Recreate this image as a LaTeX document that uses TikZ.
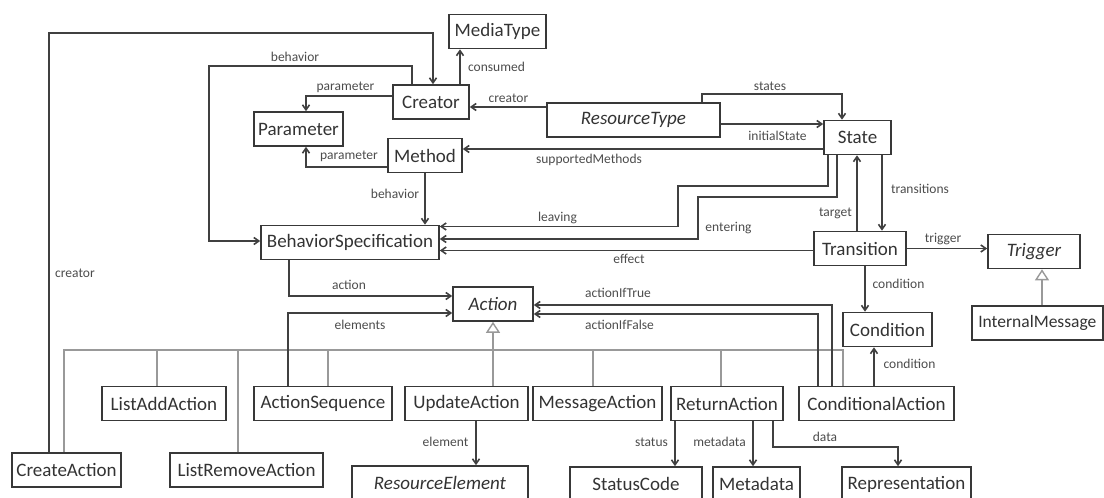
\documentclass[tikz,border=0pt]{standalone}
\usepackage{fontspec}
\setmainfont{Carlito}
\usetikzlibrary{arrows.meta}

\begin{document}
\begin{tikzpicture}[x=1pt,y=-1pt,
  cls/.style={draw=black!78,line width=1.6pt,text=black!80,font=\fontsize{19}{19}\selectfont,minimum height=34pt,inner sep=0pt},
  arr/.style={draw=black!75,line width=1.6pt,-{Straight Barb[length=5pt,width=7pt]}},
  gen/.style={draw=black!40,line width=1.4pt},
  genarr/.style={gen,-{Triangle[open,length=11pt,width=14pt]}},
  lbl/.style={text=black!70,font=\fontsize{13.5}{13.5}\selectfont,inner sep=0pt}]

\useasboundingbox (0,0) rectangle (1104,498);

% classes
\node[cls,minimum width=97pt] (mt) at (497.5,31.5) {MediaType};
\node[cls,minimum width=76pt] (cr) at (431,102) {Creator};
\node[cls,minimum width=89pt] (pm) at (298.5,129) {Parameter};
\node[cls,minimum width=74pt] (me) at (425,155.5) {Method};
\node[cls,minimum width=173pt] (rt) at (633.5,120) {\itshape ResourceType};
\node[cls,minimum width=67pt] (st) at (857.5,137.5) {State};
\node[cls,minimum width=178pt] (bs) at (350,242.5) {BehaviorSpecification};
\node[cls,minimum width=92pt] (tr) at (860,248.5) {Transition};
\node[cls,minimum width=92pt] (tg) at (1034,251.5) {\itshape Trigger};
\node[cls,minimum width=131pt,anchor=west,font=\fontsize{17.5}{17.5}\selectfont] (im) at (971,323) {InternalMessage};
\node[cls,minimum width=80pt] (ac) at (493,304) {\itshape Action};
\node[cls,minimum width=89pt] (cd) at (887.5,329.5) {Condition};
\node[cls,minimum width=124pt] (la) at (164,403.5) {ListAddAction};
\node[cls,minimum width=138pt] (as) at (323,403.5) {ActionSequence};
\node[cls,minimum width=123pt] (ua) at (466.5,403.5) {UpdateAction};
\node[cls,minimum width=129pt] (ma) at (597.5,403.5) {MessageAction};
\node[cls,minimum width=112pt] (ra) at (727,403.5) {ReturnAction};
\node[cls,minimum width=155pt] (cna) at (876.5,403.5) {ConditionalAction};
\node[cls,minimum width=109pt] (ca) at (66.5,470) {CreateAction};
\node[cls,minimum width=153pt] (lr) at (246.5,470) {ListRemoveAction};
\node[cls,minimum width=176pt] (re) at (440,483) {\itshape ResourceElement};
\node[cls,minimum width=132pt] (sc) at (636,484) {StatusCode};
\node[cls,minimum width=87pt] (md) at (756.5,484) {Metadata};
\node[cls,minimum width=129pt] (rp) at (906.5,484) {Representation};

% generalisation
\coordinate (g0) at (64,350);
\coordinate (g1) at (843,350);
\draw[gen] (g0 |- ca.north) -- (g0) -- (g1) -- (g1 |- cna.north);
\foreach \n/\dx in {la/-7,lr/-8.5,as/5,ma/-4.5,ra/-6}
  \draw[gen] ([xshift=\dx]\n.north) -- ([xshift=\dx]\n.north |- g0);
\draw[genarr] ([xshift=26.5]ua.north) -- ([xshift=26.5]ua.north |- ac.south);
\draw[genarr] ([xshift=8]tg.south |- im.north) -- ([xshift=8]tg.south);

% associations
\coordinate (k1) at (49,33);
\draw[arr] (k1 |- ca.north) -- (k1) -| ([xshift=2]cr.north);
\coordinate (k2) at (209,66);
\draw[arr] ([xshift=-19]cr.north) |- (k2) |- ([yshift=1.5]bs.west);
\draw[arr] ([yshift=6]cr.west) -| ([xshift=7.5]pm.north);
\draw[arr] ([yshift=-11.5]me.west) -| ([xshift=7.5]pm.south);
\draw[arr] ([xshift=29]cr.north) -- ([xshift=29]cr.north |- mt.south);
\draw[arr] ([yshift=13]rt.west) -- ([yshift=13]rt.west -| cr.east);
\coordinate (k3) at (842,94);
\draw[arr] ([xshift=68.5]rt.north) |- (k3) -- (k3 |- st.north);
\draw[arr] ([yshift=-4]rt.east) -- ([yshift=-4]rt.east -| st.west);
\draw[arr] ([yshift=-11.5]st.west) -- ([yshift=-11.5]st.west -| me.east);
\draw[arr] (me.south) -- (me.south |- bs.north);
\coordinate (k4) at (678,186);
\draw[arr] ([xshift=-29.5]st.south) |- (k4) |- ([yshift=16]bs.east);
\coordinate (k5) at (698,197);
\draw[arr] ([xshift=-20.5]st.south) |- (k5) |- ([yshift=3.5]bs.east);
\draw[arr] ([yshift=-2]tr.west) -- ([yshift=-2]tr.west -| bs.east);
\draw[arr] ([xshift=-3]tr.north) -- ([xshift=-3]tr.north |- st.south);
\draw[arr] ([xshift=24.5]st.south) -- ([xshift=24.5]st.south |- tr.north);
\draw[arr] (tr.east) -- (tr.east -| tg.west);
\draw[arr] ([xshift=5]tr.south) -- ([xshift=5]tr.south |- cd.north);
\draw[arr] ([xshift=-2.5]cna.north) -- ([xshift=-2.5]cna.north |- cd.south);
\draw[arr] ([xshift=-44.5]cna.north) |- ([yshift=-1]ac.east);
\draw[arr] ([xshift=-58.5]cna.north) |- ([yshift=-10]ac.east);
\draw[arr] ([xshift=-61]bs.south) |- ([yshift=8]ac.west);
\draw[arr] ([xshift=-35]as.north) |- ([yshift=-9]ac.west);
\draw[arr] ([xshift=9.5]ua.south) -- ([xshift=9.5]ua.south |- re.north);
\draw[arr] ([xshift=-52]ra.south) -- ([xshift=-52]ra.south |- sc.north);
\draw[arr] ([xshift=26]ra.south) -- ([xshift=26]ra.south |- md.north);
\coordinate (k6) at (898,447);
\draw[arr] ([xshift=46]ra.south) |- (k6) -- (k6 |- rp.north);

% role names
\node[lbl] (lcreatorA) at (75,273) {creator};
\node[lbl] (lbehaviorA) at (295,57) {behavior};
\node[lbl] (lparamA) at (345.5,87) {parameter};
\node[lbl] (lparamB) at (349,156) {parameter};
\node[lbl] (lconsumed) at (496.5,67) {consumed};
\node[lbl] (lcreatorB) at (508.5,98) {creator};
\node[lbl] (lstates) at (770,86) {states};
\node[lbl] (linitial) at (777.5,136) {initialState};
\node[lbl] (lsupported) at (589,160) {supportedMethods};
\node[lbl] (lbehaviorB) at (395,194) {behavior};
\node[lbl] (lleaving) at (557.5,218) {leaving};
\node[lbl] (lentering) at (728.5,228) {entering};
\node[lbl] (leffect) at (629,259) {effect};
\node[lbl] (ltarget) at (835.5,213) {target};
\node[lbl] (ltransitions) at (920,189) {transitions};
\node[lbl] (ltrigger) at (943,239) {trigger};
\node[lbl] (lcondA) at (898.5,284) {condition};
\node[lbl] (lcondB) at (909.5,364) {condition};
\node[lbl] (ltrue) at (618,293) {actionIfTrue};
\node[lbl] (lfalse) at (619.5,325) {actionIfFalse};
\node[lbl] (laction) at (349,285) {action};
\node[lbl] (lelements) at (360,325) {elements};
\node[lbl] (lelement) at (445.5,442) {element};
\node[lbl] (lstatus) at (651.5,442) {status};
\node[lbl] (lmetadata) at (719.5,442) {metadata};
\node[lbl] (ldata) at (825,437) {data};

\end{tikzpicture}
\end{document}
